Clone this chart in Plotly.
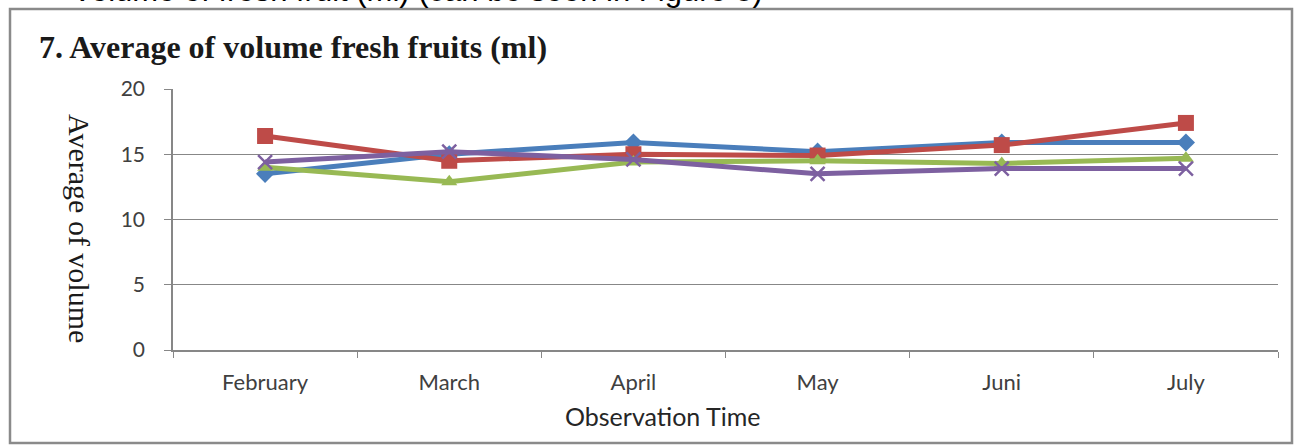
import plotly.graph_objects as go

months = ["February", "March", "April", "May", "Juni", "July"]
series_names = ["Series 1", "Series 2", "Series 3", "Series 4"]
blue_vals = [13.5, 15.0, 15.9, 15.2, 15.9, 15.9]
red_vals = [16.4, 14.5, 15.0, 14.9, 15.7, 17.4]
green_vals = [14.0, 12.9, 14.4, 14.5, 14.3, 14.7]
purple_vals = [14.4, 15.2, 14.6, 13.5, 13.9, 13.9]
y_ticks = [0, 5, 10, 15, 20]

W, H = 1299, 445
L, R, T, B = 173, W - 1278, 89, H - 350
pw, ph = W - L - R, H - T - B


def px_x(p):
    return (p - L) / pw


def px_y(p):
    return (H - B - p) / ph


fig = go.Figure()
styles = [
    (blue_vals, "#4A7EBB", "diamond", 14, 0),
    (red_vals, "#BE4B48", "square", 16, 0),
    (green_vals, "#98B954", "triangle-up", 14, 0),
    (purple_vals, "#7D60A0", "x-thin", 14, 2.5),
]
for name, (vals, col, sym, sz, lw) in zip(series_names, styles):
    fig.add_trace(go.Scatter(
        x=months, y=vals, name=name, mode="lines+markers",
        line=dict(color=col, width=5),
        marker=dict(symbol=sym, size=sz, color=col,
                    line=dict(color=col, width=lw)),
        showlegend=False,
    ))

axis_col = "#878787"
fig.update_xaxes(
    type="category", tickson="boundaries", ticks="outside", ticklen=6,
    tickcolor=axis_col, showline=True, linecolor=axis_col, linewidth=1.5,
    showgrid=False, tickfont=dict(family="Lato", size=22, color="#404040"),
    ticklabelstandoff=12, range=[-0.5, 5.5],
)
fig.update_yaxes(
    range=[0, 20], tickvals=y_ticks, ticks="outside", ticklen=7,
    tickcolor=axis_col, showline=True, linecolor=axis_col, linewidth=1.5,
    showgrid=True, gridcolor=axis_col, gridwidth=1, zeroline=False,
    tickfont=dict(family="Lato", size=21, color="#404040"),
    ticklabelstandoff=15,
)

fig.update_layout(
    width=W, height=H,
    margin=dict(l=L, r=R, t=T, b=B, pad=0),
    paper_bgcolor="white", plot_bgcolor="white",
    shapes=[dict(type="rect", xref="paper", yref="paper",
                 x0=px_x(10), x1=px_x(1292), y0=px_y(443), y1=px_y(9),
                 line=dict(color="#8a8a8a", width=2.5), layer="below")],
    annotations=[
        dict(text="<b>7. Average of volume fresh fruits (ml)</b>",
             xref="paper", yref="paper", x=px_x(37), y=px_y(47),
             xanchor="left", yanchor="middle", showarrow=False,
             font=dict(family="Liberation Serif", size=32, color="#1a1a1a")),
        dict(text="Average of volume", textangle=90,
             xref="paper", yref="paper", x=px_x(80), y=px_y(228),
             xanchor="center", yanchor="middle", showarrow=False,
             font=dict(family="Liberation Serif", size=30, color="#1a1a1a")),
        dict(text="Observation Time",
             xref="paper", yref="paper", x=px_x(662), y=px_y(416),
             xanchor="center", yanchor="middle", showarrow=False,
             font=dict(family="Lato", size=25, color="#262626")),
        dict(text="Volume of fresh fruit (ml) (can be seen in Figure 8)",
             xref="paper", yref="paper", x=px_x(70), y=px_y(-9),
             xanchor="left", yanchor="middle", showarrow=False,
             font=dict(family="Liberation Sans", size=31, color="#000000")),
    ],
)

fig.write_html(
    "out.html",
    config={"displayModeBar": False},
    post_script="document.body.style.margin='0';document.body.style.overflow='hidden';",
)
